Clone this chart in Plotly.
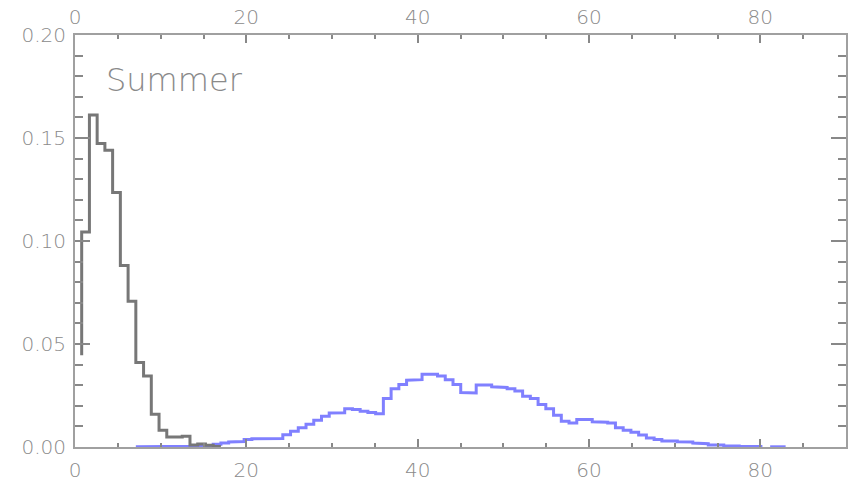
import numpy as np
import plotly.graph_objects as go

# ---- data ----
BIN_START = 0.78
BIN_WIDTH = 0.903

gray_start_level = 0.0445
gray_first_bin = 0
gray_values = [0.1044, 0.1612, 0.1473, 0.1440, 0.1235, 0.0881, 0.0707, 0.0410,
               0.0345, 0.0159, 0.0081, 0.0048, 0.0048, 0.0052, 0.0010, 0.0015,
               0.0008, 0.0002]

blue_first_bin = 7
blue_values = [0.0001, 0.0001, 0.0001, 0.0001, 0.0001, 0.0001, 0.0002, 0.0004,
               0.0005, 0.0007, 0.0013, 0.0020, 0.0024, 0.0027, 0.0036, 0.0040,
               0.0042, 0.0042, 0.0041, 0.0060, 0.0076, 0.0093, 0.0111, 0.0130,
               0.0149, 0.0165, 0.0166, 0.0186, 0.0182, 0.0173, 0.0167, 0.0162,
               0.0235, 0.0283, 0.0303, 0.0324, 0.0327, 0.0353, 0.0353, 0.0345,
               0.0327, 0.0303, 0.0264, 0.0262, 0.0301, 0.0301, 0.0292, 0.0289,
               0.0283, 0.0272, 0.0246, 0.0235, 0.0206, 0.0186, 0.0154, 0.0125,
               0.0117, 0.0133, 0.0134, 0.0122, 0.0120, 0.0117, 0.0094, 0.0081,
               0.0071, 0.0058, 0.0044, 0.0036, 0.0029, 0.0029, 0.0025, 0.0024,
               0.0019, 0.0016, 0.0010, 0.0010, 0.0006, 0.0005, 0.0002, 0.0002,
               0.0002, None, 0.0001, 0.0001]

x_tickvals = [0, 20, 40, 60, 80]
y_tickvals = [0.00, 0.05, 0.10, 0.15, 0.20]
label_text = "Summer"


def step_path(first_bin, values, start_level=None):
    xs, ys = [], []
    if start_level is not None:
        e0 = BIN_START + BIN_WIDTH * first_bin
        xs.append(e0)
        ys.append(start_level)
    for i, v in enumerate(values):
        k = first_bin + i
        left = BIN_START + BIN_WIDTH * k
        right = left + BIN_WIDTH
        if v is None:
            xs.append(None)
            ys.append(None)
            continue
        xs += [left, right]
        ys += [v, v]
    return xs, ys


FONT = "DejaVu Sans"
W = 200
TXT = "#8a8a8a"
AX = "#a0a0a0"
TK = "#888888"
FS = 20

fig = go.Figure()
bx, by = step_path(blue_first_bin, blue_values)
gx, gy = step_path(gray_first_bin, gray_values, gray_start_level)
fig.add_trace(go.Scatter(x=bx, y=by, mode="lines", line=dict(color="#8080ff", width=3),
                         connectgaps=False, showlegend=False, hoverinfo="skip"))
fig.add_trace(go.Scatter(x=gx, y=gy, mode="lines", line=dict(color="#777777", width=3),
                         connectgaps=False, showlegend=False, hoverinfo="skip"))
# invisible trace for top axis
fig.add_trace(go.Scatter(x=[0, 90], y=[0, 0], xaxis="x2", mode="lines",
                         line=dict(width=0), showlegend=False, hoverinfo="skip"))

tf = dict(size=FS, color=TXT, family=FONT, weight=W)
fig.update_layout(
    width=853, height=482,
    margin=dict(l=75, r=7, t=35, b=35),
    paper_bgcolor="white", plot_bgcolor="white",
    font=dict(family=FONT, color=TXT, size=FS, weight=W),
    xaxis=dict(range=[0, 90], tickvals=x_tickvals, ticks="inside", ticklen=8,
               tickwidth=1.5, tickcolor=TK, showline=True, linecolor=AX, linewidth=2,
               mirror="ticks", showgrid=False, zeroline=False, automargin=False,
               minor=dict(dtick=5, ticks="inside", ticklen=4, tickcolor=TK, tickwidth=1.5),
               tickfont=tf, ticklabelstandoff=4),
    xaxis2=dict(range=[0, 90], overlaying="x", side="top", matches="x",
                tickvals=x_tickvals, ticks="", showline=False, showgrid=False,
                zeroline=False, automargin=False, tickfont=tf, ticklabelstandoff=6),
    yaxis=dict(range=[0, 0.20], tickvals=y_tickvals, tickformat=".2f", ticks="inside",
               ticklen=15, tickwidth=1.5, tickcolor=TK, showline=True, linecolor=AX,
               linewidth=2, mirror="ticks", showgrid=False, zeroline=False,
               automargin=False,
               minor=dict(dtick=0.01, ticks="inside", ticklen=8, tickcolor=TK, tickwidth=1.5),
               tickfont=tf, ticklabelstandoff=3),
    annotations=[dict(text=label_text, x=0.038, y=0.89, xref="paper", yref="paper",
                      xanchor="left", yanchor="middle", showarrow=False,
                      font=dict(size=32, color=TXT, family=FONT, weight=W))],
)

fig.write_html("out.html", config={"displayModeBar": False},
               post_script="document.body.style.margin='0px';")
